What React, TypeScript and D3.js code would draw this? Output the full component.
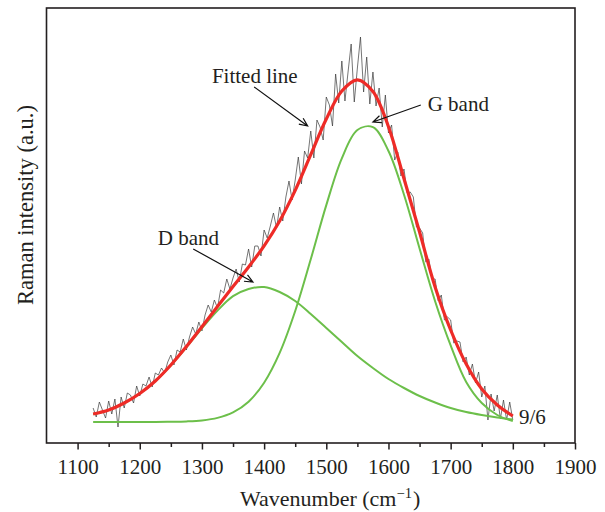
import React, { useEffect, useRef } from 'react';
import * as d3 from 'd3';

// fitted curves, every 25 cm-1 (heights above the green baseline, a.u.)
const fitWave = [1125, 1150, 1175, 1200, 1225, 1250, 1275, 1300, 1325, 1350, 1375, 1400, 1425, 1450,
  1475, 1500, 1525, 1550, 1575, 1600, 1625, 1650, 1675, 1700, 1725, 1750, 1775, 1800];
const fitRed = [8, 12, 19, 28.5, 41, 57, 75.4, 95.3, 115.5, 135.4, 155, 176.2, 201, 231.6,
  267.3, 303, 331, 342.2, 330.5, 295.3, 243.3, 190, 135, 92, 58, 33, 17, 6];
const fitG = [0, 0, 0, 0, 0, 0.2, 0.6, 1.6, 4.1, 9.6, 20.3, 39.3, 69.1, 111,
  162.7, 216.9, 263.7, 292, 294.8, 271, 227.3, 173.5, 120.8, 76.6, 40, 19, 7, 1];
const fitD = [8, 12, 19, 28.5, 41, 56.8, 74.8, 93.7, 111.4, 125.8, 133, 135, 130, 121,
  108, 94, 80, 66, 54, 43, 34, 26, 19.5, 14, 10, 7, 4.5, 2.5];

// measured spectrum, every 5 cm-1 from 1125 to 1800
const rawStart = 1125;
const rawStep = 5;
const rawIntensity = [
  14, 5, 20, 12, 4, 21, 8, 23, -5, 25, 14, 29, 27, 19, 36, 26, 38, 36, 45, 35,
  49, 47, 54, 49, 60, 67, 57, 72, 70, 83, 72, 85, 95, 88, 100, 91, 107, 117, 110, 122,
  114, 132, 129, 143, 133, 144, 153, 140, 158, 157, 173, 155, 176, 176, 166, 192, 184, 196, 209, 194,
  215, 201, 225, 241, 222, 242, 265, 238, 271, 264, 291, 264, 302, 295, 282, 325, 317, 296, 348, 319,
  361, 321, 350, 378, 320, 354, 385, 330, 365, 318, 350, 316, 334, 295, 327, 289, 297, 262, 270, 246,
  253, 229, 230, 225, 195, 194, 189, 160, 163, 143, 143, 121, 127, 102, 105, 102, 79, 81, 80, 60,
  65, 47, 58, 39, 50, 25, 36, 2, 28, 11, 27, 3, 22, 2, 20, 2
];

const majorTicks = [1100, 1200, 1300, 1400, 1500, 1600, 1700, 1800, 1900];
const minorTicks = [1150, 1250, 1350, 1450, 1550, 1650, 1750, 1850];

// annotations: text position and arrow (wavenumber, intensity)
const labels = [
  { text: 'Fitted line', x: 1316, y: 339, ax1: 1384, ay1: 335, ax2: 1470, ay2: 296 },
  { text: 'G band', x: 1663, y: 311, ax1: 1652, ay1: 317, ax2: 1575, ay2: 300 },
  { text: 'D band', x: 1229, y: 177, ax1: 1286, ay1: 173, ax2: 1382, ay2: 140 }
];
const sampleLabel = { text: '9/6', x: 1810, y: -2 };

const W = 605, H = 512;
const left = 46.5, right = 575, top = 8, bottom = 443;
const font = '"Liberation Serif", "Times New Roman", serif';

export default function App() {
  const ref = useRef<SVGSVGElement>(null);

  useEffect(() => {
    const svg = d3.select(ref.current);
    svg.selectAll('*').remove();

    const x = d3.scaleLinear().domain([1050, 1900]).range([left, right]);
    const y = d3.scaleLinear().domain([-21, 414]).range([bottom, top]);

    // minor ticks
    svg.append('g')
      .attr('transform', `translate(0,${bottom})`)
      .call(d3.axisBottom(x).tickValues(minorTicks).tickSize(4).tickFormat(() => ''))
      .call(g => g.select('.domain').remove())
      .call(g => g.selectAll('line').attr('stroke', '#231f20').attr('stroke-width', 1.5));

    const xAxis = svg.append('g')
      .attr('transform', `translate(0,${bottom})`)
      .call(d3.axisBottom(x).tickValues(majorTicks).tickSize(6.5).tickPadding(10).tickFormat(d3.format('d')));
    xAxis.select('.domain').remove();
    xAxis.selectAll('line').attr('stroke', '#231f20').attr('stroke-width', 1.5);
    xAxis.selectAll('text')
      .attr('font-family', font)
      .attr('font-size', 21)
      .attr('fill', '#231f20');

    const rawLine = d3.line<number>()
      .x((d, i) => x(rawStart + i * rawStep))
      .y(d => y(d));

    svg.append('path')
      .attr('d', rawLine(rawIntensity))
      .attr('fill', 'none')
      .attr('stroke', '#3a3a3a')
      .attr('stroke-width', 0.7);

    const fitLine = d3.line<number>()
      .x((d, i) => x(fitWave[i]))
      .y(d => y(d))
      .curve(d3.curveCatmullRom);

    [fitD, fitG].forEach(s => {
      svg.append('path')
        .attr('d', fitLine(s))
        .attr('fill', 'none')
        .attr('stroke', '#6cbf4a')
        .attr('stroke-width', 2);
    });

    svg.append('path')
      .attr('d', fitLine(fitRed))
      .attr('fill', 'none')
      .attr('stroke', '#ee2b27')
      .attr('stroke-width', 3.2);

    // frame
    svg.append('rect')
      .attr('x', left).attr('y', top)
      .attr('width', right - left).attr('height', bottom - top)
      .attr('fill', 'none')
      .attr('stroke', '#231f20')
      .attr('stroke-width', 1.6);

    // annotations
    labels.forEach(l => {
      svg.append('text')
        .attr('x', x(l.x)).attr('y', y(l.y))
        .attr('font-family', font).attr('font-size', 21).attr('fill', '#231f20')
        .text(l.text);
      const x1 = x(l.ax1), y1 = y(l.ay1), x2 = x(l.ax2), y2 = y(l.ay2);
      const a = Math.atan2(y2 - y1, x2 - x1);
      const hl = 9, ha = 0.42;
      svg.append('path')
        .attr('d', `M${x1},${y1}L${x2},${y2}` +
          `M${x2 - hl * Math.cos(a - ha)},${y2 - hl * Math.sin(a - ha)}L${x2},${y2}` +
          `L${x2 - hl * Math.cos(a + ha)},${y2 - hl * Math.sin(a + ha)}`)
        .attr('fill', 'none')
        .attr('stroke', '#111')
        .attr('stroke-width', 1.2);
    });

    svg.append('text')
      .attr('x', x(sampleLabel.x)).attr('y', y(sampleLabel.y))
      .attr('font-family', font).attr('font-size', 21).attr('fill', '#231f20')
      .text(sampleLabel.text);

    // axis titles
    const xt = svg.append('text')
      .attr('x', 240).attr('y', 506)
      .attr('font-family', font).attr('font-size', 22).attr('fill', '#231f20');
    xt.append('tspan').text('Wavenumber (cm');
    xt.append('tspan').attr('font-size', 14.5).attr('dy', -8.5).text('\u22121');
    xt.append('tspan').attr('dx', 1).attr('dy', 8.5).text(')');

    svg.append('text')
      .attr('transform', 'translate(32.5,305) rotate(-90)')
      .attr('font-family', font).attr('font-size', 22.5).attr('fill', '#231f20')
      .text('Raman intensity (a.u.)');
  }, []);

  return (
    <svg ref={ref} width={W} height={H}
      style={{ position: 'absolute', left: 0, top: 0, background: '#fff' }} />
  );
}
